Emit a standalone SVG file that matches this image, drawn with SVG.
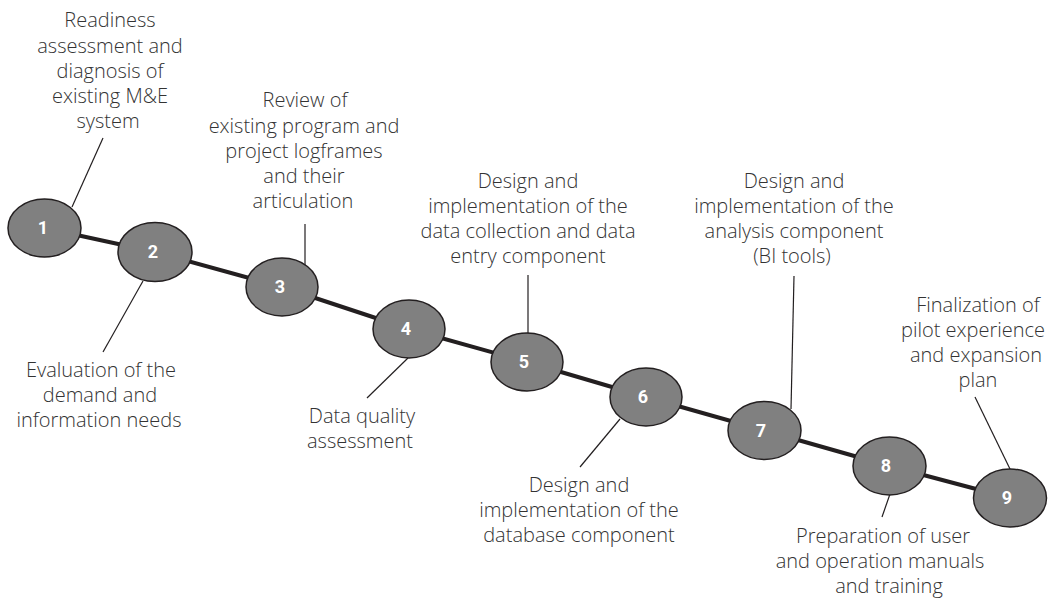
<svg xmlns="http://www.w3.org/2000/svg" width="1059" height="598" viewBox="0 0 1059 598">
<style>
.lbl{font-family:"Open Sans","Liberation Sans",sans-serif;font-weight:300;font-size:20px;fill:#333;text-anchor:middle}
.num{font-family:Roboto,"Liberation Sans",sans-serif;font-weight:bold;font-size:18px;fill:#fff;text-anchor:middle}
.node ellipse{fill:#808080;stroke:#231f20;stroke-width:1.5}
.thick{stroke:#231f20;stroke-width:4;fill:none}
.thin{stroke:#231f20;stroke-width:1.2;fill:none}
</style>
<rect width="1059" height="598" fill="#fff"/>
<g id="connectors">
<polyline class="thick" points="44.5,228 155,252 282,287 409,329 527,362 646,397 764.5,430.5 889.5,466 1010,498"/>
<line class="thin" x1="103" y1="138" x2="72" y2="207"/>
<line class="thin" x1="143" y1="281" x2="103" y2="352"/>
<line class="thin" x1="305" y1="224" x2="305" y2="265"/>
<line class="thin" x1="408" y1="358" x2="367" y2="398"/>
<line class="thin" x1="528" y1="275" x2="528" y2="333"/>
<line class="thin" x1="620" y1="419" x2="580" y2="467"/>
<line class="thin" x1="794" y1="276" x2="791" y2="409"/>
<line class="thin" x1="890" y1="494" x2="882" y2="517"/>
<line class="thin" x1="1010" y1="469" x2="975" y2="397"/>
</g>
<g id="node1" class="node"><ellipse cx="44.5" cy="228" rx="36.5" ry="29"/><text class="num" x="43" y="234">1</text>
<text class="lbl"><tspan x="110" y="27">Readiness</tspan><tspan x="110" y="52.5">assessment and</tspan><tspan x="110" y="77.5">diagnosis of</tspan><tspan x="110" y="102.5">existing M&amp;E</tspan><tspan x="108" y="127.5">system</tspan></text></g>
<g id="node2" class="node"><ellipse cx="155" cy="252" rx="37" ry="29.5"/><text class="num" x="153" y="258">2</text>
<text class="lbl"><tspan x="101" y="377">Evaluation of the</tspan><tspan x="100" y="402">demand and</tspan><tspan x="99" y="427">information needs</tspan></text></g>
<g id="node3" class="node"><ellipse cx="282" cy="287" rx="36" ry="29"/><text class="num" x="280" y="293">3</text>
<text class="lbl"><tspan x="305" y="107">Review of</tspan><tspan x="304" y="133">existing program and</tspan><tspan x="304" y="158">project logframes</tspan><tspan x="304" y="183">and their</tspan><tspan x="303" y="208">articulation</tspan></text></g>
<g id="node4" class="node"><ellipse cx="409" cy="329" rx="36" ry="29"/><text class="num" x="406" y="335">4</text>
<text class="lbl"><tspan x="362" y="423">Data quality</tspan><tspan x="360" y="448">assessment</tspan></text></g>
<g id="node5" class="node"><ellipse cx="527" cy="362" rx="36" ry="29"/><text class="num" x="524" y="368">5</text>
<text class="lbl"><tspan x="528" y="188">Design and</tspan><tspan x="528" y="213">implementation of the</tspan><tspan x="528" y="238">data collection and data</tspan><tspan x="528" y="263">entry component</tspan></text></g>
<g id="node6" class="node"><ellipse cx="646" cy="397" rx="36" ry="29"/><text class="num" x="643" y="403">6</text>
<text class="lbl"><tspan x="579" y="492">Design and</tspan><tspan x="579" y="517">implementation of the</tspan><tspan x="579" y="542">database component</tspan></text></g>
<g id="node7" class="node"><ellipse cx="764.5" cy="430.5" rx="36.5" ry="29"/><text class="num" x="761" y="437">7</text>
<text class="lbl"><tspan x="794" y="188">Design and</tspan><tspan x="794" y="213">implementation of the</tspan><tspan x="794" y="238">analysis component</tspan><tspan x="792" y="263">(BI tools)</tspan></text></g>
<g id="node8" class="node"><ellipse cx="889.5" cy="466" rx="36.5" ry="29"/><text class="num" x="886" y="472">8</text>
<text class="lbl"><tspan x="883" y="543">Preparation of user</tspan><tspan x="880" y="568">and operation manuals</tspan><tspan x="889" y="593">and training</tspan></text></g>
<g id="node9" class="node"><ellipse cx="1010" cy="498" rx="36.5" ry="29"/><text class="num" x="1007" y="504">9</text>
<text class="lbl"><tspan x="978" y="312">Finalization of</tspan><tspan x="973" y="337">pilot experience</tspan><tspan x="976" y="362">and expansion</tspan><tspan x="978" y="387">plan</tspan></text></g>
</svg>
